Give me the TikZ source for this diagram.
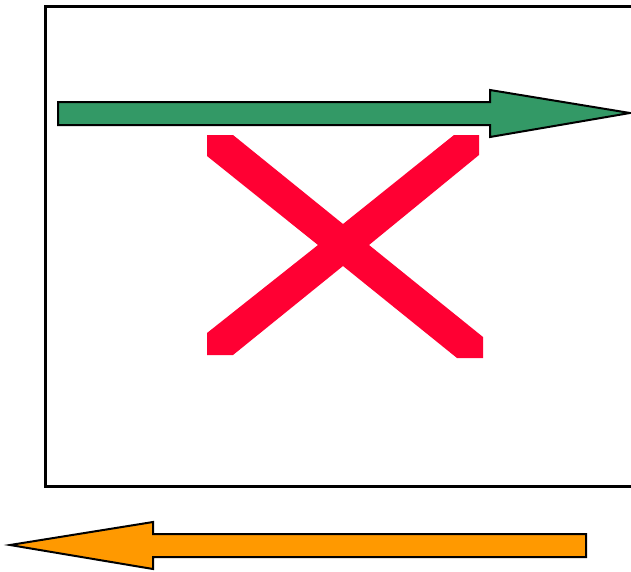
\documentclass[tikz,border=0pt]{standalone}
\usepackage{xcolor}
\usepackage{tikz}
\definecolor{arrowgreen}{HTML}{339966}
\definecolor{arroworange}{HTML}{FF9900}
\definecolor{crossred}{HTML}{FF0033}

\begin{document}
\begin{tikzpicture}[x=1pt,y=-1pt,
  blockarrow/.style={draw=black,line width=2pt,line join=miter}]
\clip (0,0) rectangle (631,571);
\useasboundingbox (0,0) rectangle (631,571);
\draw[line width=3pt] (45,6) rectangle (645,486);
\draw[blockarrow,fill=arrowgreen] (58,102) -- (490,102) -- (490,90) -- (630,113)
  -- (490,137) -- (490,125) -- (58,125) -- cycle;
\fill[crossred] (207,135) -- (233,135) -- (343,224) -- (454,135) -- (479,135)
  -- (479,155) -- (369,245) -- (483,337) -- (483,358) -- (457,358)
  -- (343,266) -- (233,355) -- (207,355) -- (207,333) -- (318,245)
  -- (207,156) -- cycle;
\draw[blockarrow,fill=arroworange] (586,534) -- (153,534) -- (153,522) -- (10,545)
  -- (153,569) -- (153,557) -- (586,557) -- cycle;
\end{tikzpicture}
\end{document}
